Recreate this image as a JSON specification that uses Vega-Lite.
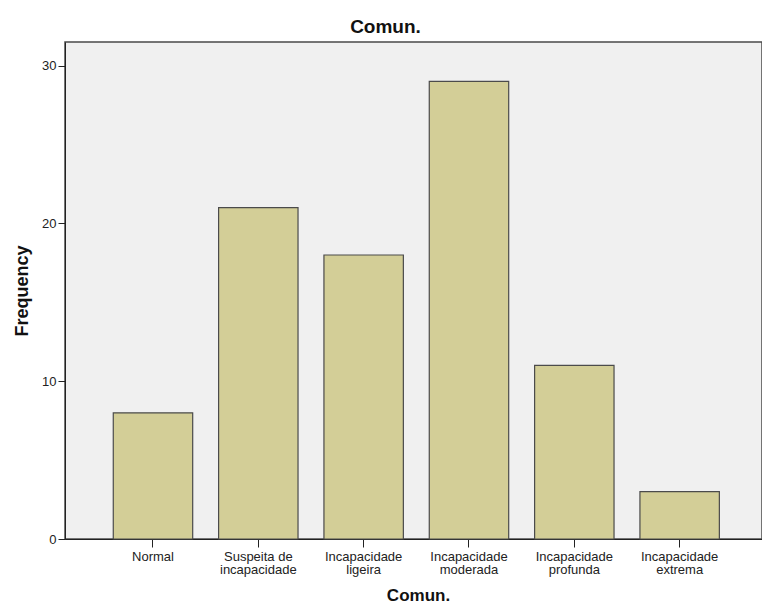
{
  "$schema": "https://vega.github.io/schema/vega-lite/v6.json",
  "autosize": {"type": "none"},
  "padding": {"left": 65, "top": 42, "right": 0, "bottom": 67},
  "width": 697,
  "height": 497,
  "background": "white",
  "title": {
    "text": "Comun.",
    "font": "Liberation Sans",
    "fontSize": 19,
    "fontWeight": "bold",
    "color": "#111111",
    "offset": 5,
    "dx": -28
  },
  "config": {
    "view": {"fill": "#f0f0f0", "stroke": "#4a4a4a", "strokeWidth": 1.5},
    "axis": {
      "labelFont": "Liberation Sans",
      "titleFont": "Liberation Sans",
      "labelColor": "#222222",
      "titleColor": "#111111",
      "domainColor": "#222222",
      "tickColor": "#222222",
      "grid": false
    }
  },
  "data": {
    "values": [
      {"category": "Normal", "frequency": 8},
      {"category": "Suspeita de incapacidade", "frequency": 21},
      {"category": "Incapacidade ligeira", "frequency": 18},
      {"category": "Incapacidade moderada", "frequency": 29},
      {"category": "Incapacidade profunda", "frequency": 11},
      {"category": "Incapacidade extrema", "frequency": 3}
    ]
  },
  "mark": {"type": "bar", "fill": "#d3ce97", "stroke": "#4b4b4b", "strokeWidth": 1.2},
  "encoding": {
    "x": {
      "field": "category",
      "type": "nominal",
      "sort": null,
      "scale": {"paddingInner": 0.246, "paddingOuter": 0.4315, "align": 0.531},
      "axis": {
        "title": "Comun.",
        "titleFontSize": 17,
        "titleFontWeight": "bold",
        "titlePadding": 11,
        "titleX": 353,
        "labelAngle": 0,
        "labelFontSize": 13,
        "labelLineHeight": 13,
        "labelPadding": 3,
        "tickSize": 8,
        "labelExpr": "datum.label == 'Suspeita de incapacidade' ? ['Suspeita de', 'incapacidade'] : split(datum.label, ' ')"
      }
    },
    "y": {
      "field": "frequency",
      "type": "quantitative",
      "scale": {"domain": [0, 31.5], "nice": false},
      "axis": {
        "title": "Frequency",
        "titleFontSize": 18,
        "titleFontWeight": "bold",
        "titlePadding": 10,
        "values": [0, 10, 20, 30],
        "labelFontSize": 13,
        "labelPadding": 2,
        "tickSize": 7
      }
    }
  }
}
